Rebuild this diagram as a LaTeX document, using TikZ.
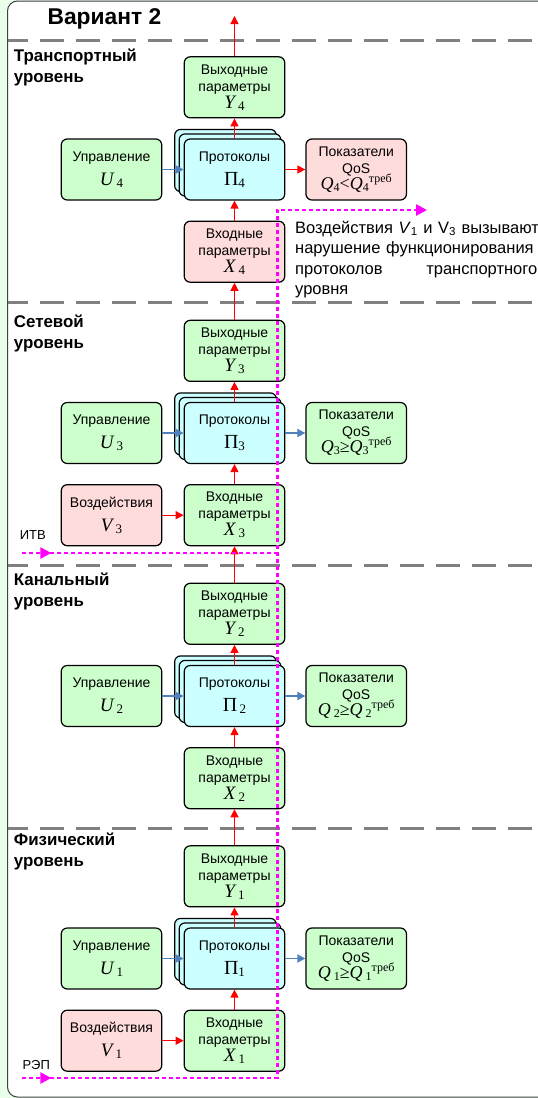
\documentclass[tikz,border=0pt]{standalone}
\usepackage{fontspec}
\setmainfont{Liberation Sans}
\newfontfamily\tmsfont{Liberation Serif}
\usetikzlibrary{arrows.meta, positioning, calc, backgrounds, decorations.markings}
\definecolor{boxgreen}{RGB}{204, 255, 204}
\definecolor{boxpink}{RGB}{255, 220, 220}
\definecolor{boxcyan}{RGB}{204, 255, 255}
\definecolor{pagegreen}{RGB}{234, 255, 234}
\definecolor{arrowblue}{RGB}{79, 129, 189}
\definecolor{levelgray}{RGB}{128, 128, 128}
\definecolor{impactpink}{RGB}{255, 0, 255}

\newcommand{\varsub}[2]{{\tmsfont\fontsize{19}{19}\selectfont\itshape #1\,\upshape\fontsize{13}{13}\selectfont\raisebox{-2pt}{#2}}}
\newcommand{\protsub}[1]{{\tmsfont\fontsize{20}{20}\selectfont Π\fontsize{13}{13}\selectfont\raisebox{-2pt}{#1}}}
\newcommand{\qosline}[3]{{\tmsfont\fontsize{18}{18}\selectfont\itshape Q\upshape#3{\fontsize{12}{12}\selectfont\raisebox{-2pt}{#1}}#2\itshape Q\upshape#3{\fontsize{12}{12}\selectfont\raisebox{-2pt}{#1}\raisebox{7pt}{треб}}}}

\tikzset{
  x=1pt, y=-1pt,
  base box/.style={draw=black, line width=1.2pt, rounded corners=6pt,
    minimum width=100.5pt, minimum height=61pt, align=center, inner sep=1pt,
    font=\fontsize{14}{17}\selectfont},
  greenbox/.style={base box, fill=boxgreen},
  pinkbox/.style={base box, fill=boxpink},
  protobox/.style={base box, fill=boxcyan},
  stacksheet/.style={draw=black, line width=1.2pt, rounded corners=6pt, fill=boxcyan},
  redarrow/.style={red, line width=1.3pt, -{Triangle[length=8pt, width=8pt]}},
  bluearrow/.style={arrowblue, line width=1.8pt, -{Triangle[length=8pt, width=8pt]}},
  levelline/.style={levelgray, line width=3pt, dash pattern=on 24pt off 12pt, dash phase=4pt},
  impactline/.style={impactpink, line width=2.5pt, dash pattern=on 4pt off 3pt},
  impactmark/.style={postaction={decorate, decoration={markings,
    mark=at position 29pt with {\arrow{Triangle[length=11pt, width=11pt]}}}}},
  levellabel/.style={font=\fontsize{16.9}{20.5}\selectfont\bfseries, align=left,
    anchor=north west, inner sep=0pt},
  sidelabel/.style={font=\fontsize{13}{15}\selectfont, anchor=base west, inner sep=0pt},
}

\begin{document}
\begin{tikzpicture}
  \useasboundingbox (0,0) rectangle (538,1098);

  % levels
  \draw[levelline] (7.5,40) -- (538,40);
  \draw[levelline] (7.5,302) -- (538,302);
  \draw[levelline] (7.5,565) -- (538,565);
  \draw[levelline] (7.5,828) -- (538,828);

  \node[anchor=base west, inner sep=0pt, font=\fontsize{22.8}{26}\selectfont\bfseries] (title) at (47.4,24) {Вариант 2};
  \node[levellabel] (lbl4) at (13.7,49) {Транспортный\\уровень};
  \node[levellabel] (lbl3) at (13.7,315) {Сетевой\\уровень};
  \node[levellabel] (lbl2) at (13.7,573) {Канальный\\уровень};
  \node[levellabel] (lbl1) at (13.7,833) {Физический\\уровень};

  % transport level
  \node[protobox] (p4) at (234.5,169.5) {Протоколы\\[7pt]\protsub{4}};
  \node[greenbox, above=20pt of p4] (y4) {Выходные\\параметры\\\varsub{Y}{4}};
  \node[pinkbox, below=20pt of p4] (x4) {Входные\\параметры\\\varsub{X}{4}};
  \node[greenbox, left=21.3pt of p4] (u4) {Управление\\[7pt]\varsub{U}{4}};
  \node[pinkbox, right=20pt of p4] (q4) {Показатели\\QoS\\[-3pt]\qosline{4}{<}{}};

  % network level
  \node[protobox] (p3) at (234.5,433) {Протоколы\\[7pt]\protsub{3}};
  \node[greenbox, above=20pt of p3] (y3) {Выходные\\параметры\\\varsub{Y}{3}};
  \node[greenbox, below=20pt of p3] (x3) {Входные\\параметры\\\varsub{X}{3}};
  \node[greenbox, left=21.3pt of p3] (u3) {Управление\\[7pt]\varsub{U}{3}};
  \node[greenbox, right=20pt of p3] (q3) {Показатели\\QoS\\[-3pt]\qosline{3}{≥}{}};
  \node[pinkbox, left=21.3pt of x3] (v3) {Воздействия\\[7pt]\varsub{V}{3}};

  % link level
  \node[protobox] (p2) at (234.5,696) {Протоколы\\[7pt]\protsub{\,2}};
  \node[greenbox, above=20pt of p2] (y2) {Выходные\\параметры\\\varsub{Y}{2}};
  \node[greenbox, below=20pt of p2] (x2) {Входные\\параметры\\\varsub{X}{2}};
  \node[greenbox, left=21.3pt of p2] (u2) {Управление\\[7pt]\varsub{U}{2}};
  \node[greenbox, right=20pt of p2] (q2) {Показатели\\QoS\\[-3pt]\qosline{2}{≥}{\,}};

  % physical level
  \node[protobox] (p1) at (234.5,958.5) {Протоколы\\[7pt]\protsub{1}};
  \node[greenbox, above=20pt of p1] (y1) {Выходные\\параметры\\\varsub{Y}{1}};
  \node[greenbox, below=20pt of p1] (x1) {Входные\\параметры\\\varsub{X}{1}};
  \node[greenbox, left=21.3pt of p1] (u1) {Управление\\[7pt]\varsub{U}{1}};
  \node[greenbox, right=20pt of p1] (q1) {Показатели\\QoS\\[-3pt]\qosline{1}{≥}{\,}};
  \node[pinkbox, left=21.3pt of x1] (v1) {Воздействия\\[7pt]\varsub{V}{1}};

  % frame and stacked protocol sheets
  \begin{scope}[on background layer]
    \fill[pagegreen] (0,0) rectangle (538,1098);
    \draw[fill=white, draw=black!75, line width=1pt, rounded corners=10pt] (7.5,1) rectangle (580,1097);
    \foreach \n in {p1,p2,p3,p4} {
      \foreach \s in {9,4.5} {
        \draw[stacksheet] ([shift={(-\s,-\s)}]\n.south west) rectangle ([shift={(-\s,-\s)}]\n.north east);
      }
    }
  \end{scope}

  % flow of parameters
  \coordinate (topout) at (234.5,16);
  \draw[redarrow] (y4) -- (topout);
  \draw[redarrow] (p4) -- (y4);
  \draw[redarrow] (x4) -- (p4);
  \draw[redarrow] (y3) -- (x4);
  \draw[redarrow] (p3) -- (y3);
  \draw[redarrow] (x3) -- (p3);
  \draw[redarrow] (y2) -- (x3);
  \draw[redarrow] (p2) -- (y2);
  \draw[redarrow] (x2) -- (p2);
  \draw[redarrow] (y1) -- (x2);
  \draw[redarrow] (p1) -- (y1);
  \draw[redarrow] (x1) -- (p1);
  \draw[redarrow] (v3) -- (x3);
  \draw[redarrow] (v1) -- (x1);

  \draw[bluearrow] (u4) -- (p4);
  \draw[bluearrow] (u3) -- (p3);
  \draw[bluearrow] (u2) -- (p2);
  \draw[bluearrow] (u1) -- (p1);
  \draw[redarrow] (p4) -- (q4);
  \draw[bluearrow] (p3) -- (q3);
  \draw[bluearrow] (p2) -- (q2);
  \draw[bluearrow] (p1) -- (q1);

  % impacts
  \coordinate (repstart) at (22.3,1078);
  \coordinate (itvstart) at (22.3,553);
  \coordinate (turn) at (277.3,1078);
  \coordinate (upper) at (277.3,210);
  \coordinate (impactend) at (427,210);
  \draw[impactline, impactmark, -{Triangle[length=11pt, width=11pt]}] (repstart) -- (turn) -- (upper) -- (impactend);
  \draw[impactline, impactmark] (itvstart) -- (itvstart -| upper);
  \node[sidelabel] (rep) at (22.3,1069) {РЭП};
  \node[sidelabel] (itv) at (19.6,539) {ИТВ};

  \node[anchor=base west, inner sep=0pt, text width=242pt, align=left,
        font=\fontsize{16.5}{20.5}\selectfont] (note) at (295,233)
    {\makebox[242pt][l]{Воздействия\hspace{5.5pt}\textit{V}\textsubscript{1} и V\textsubscript{3} вызывают}\\
     \makebox[242pt][l]{нарушение функционирования}\\
     \makebox[242pt][l]{протоколов\hfill транспортного}\\
     уровня};
\end{tikzpicture}
\end{document}
